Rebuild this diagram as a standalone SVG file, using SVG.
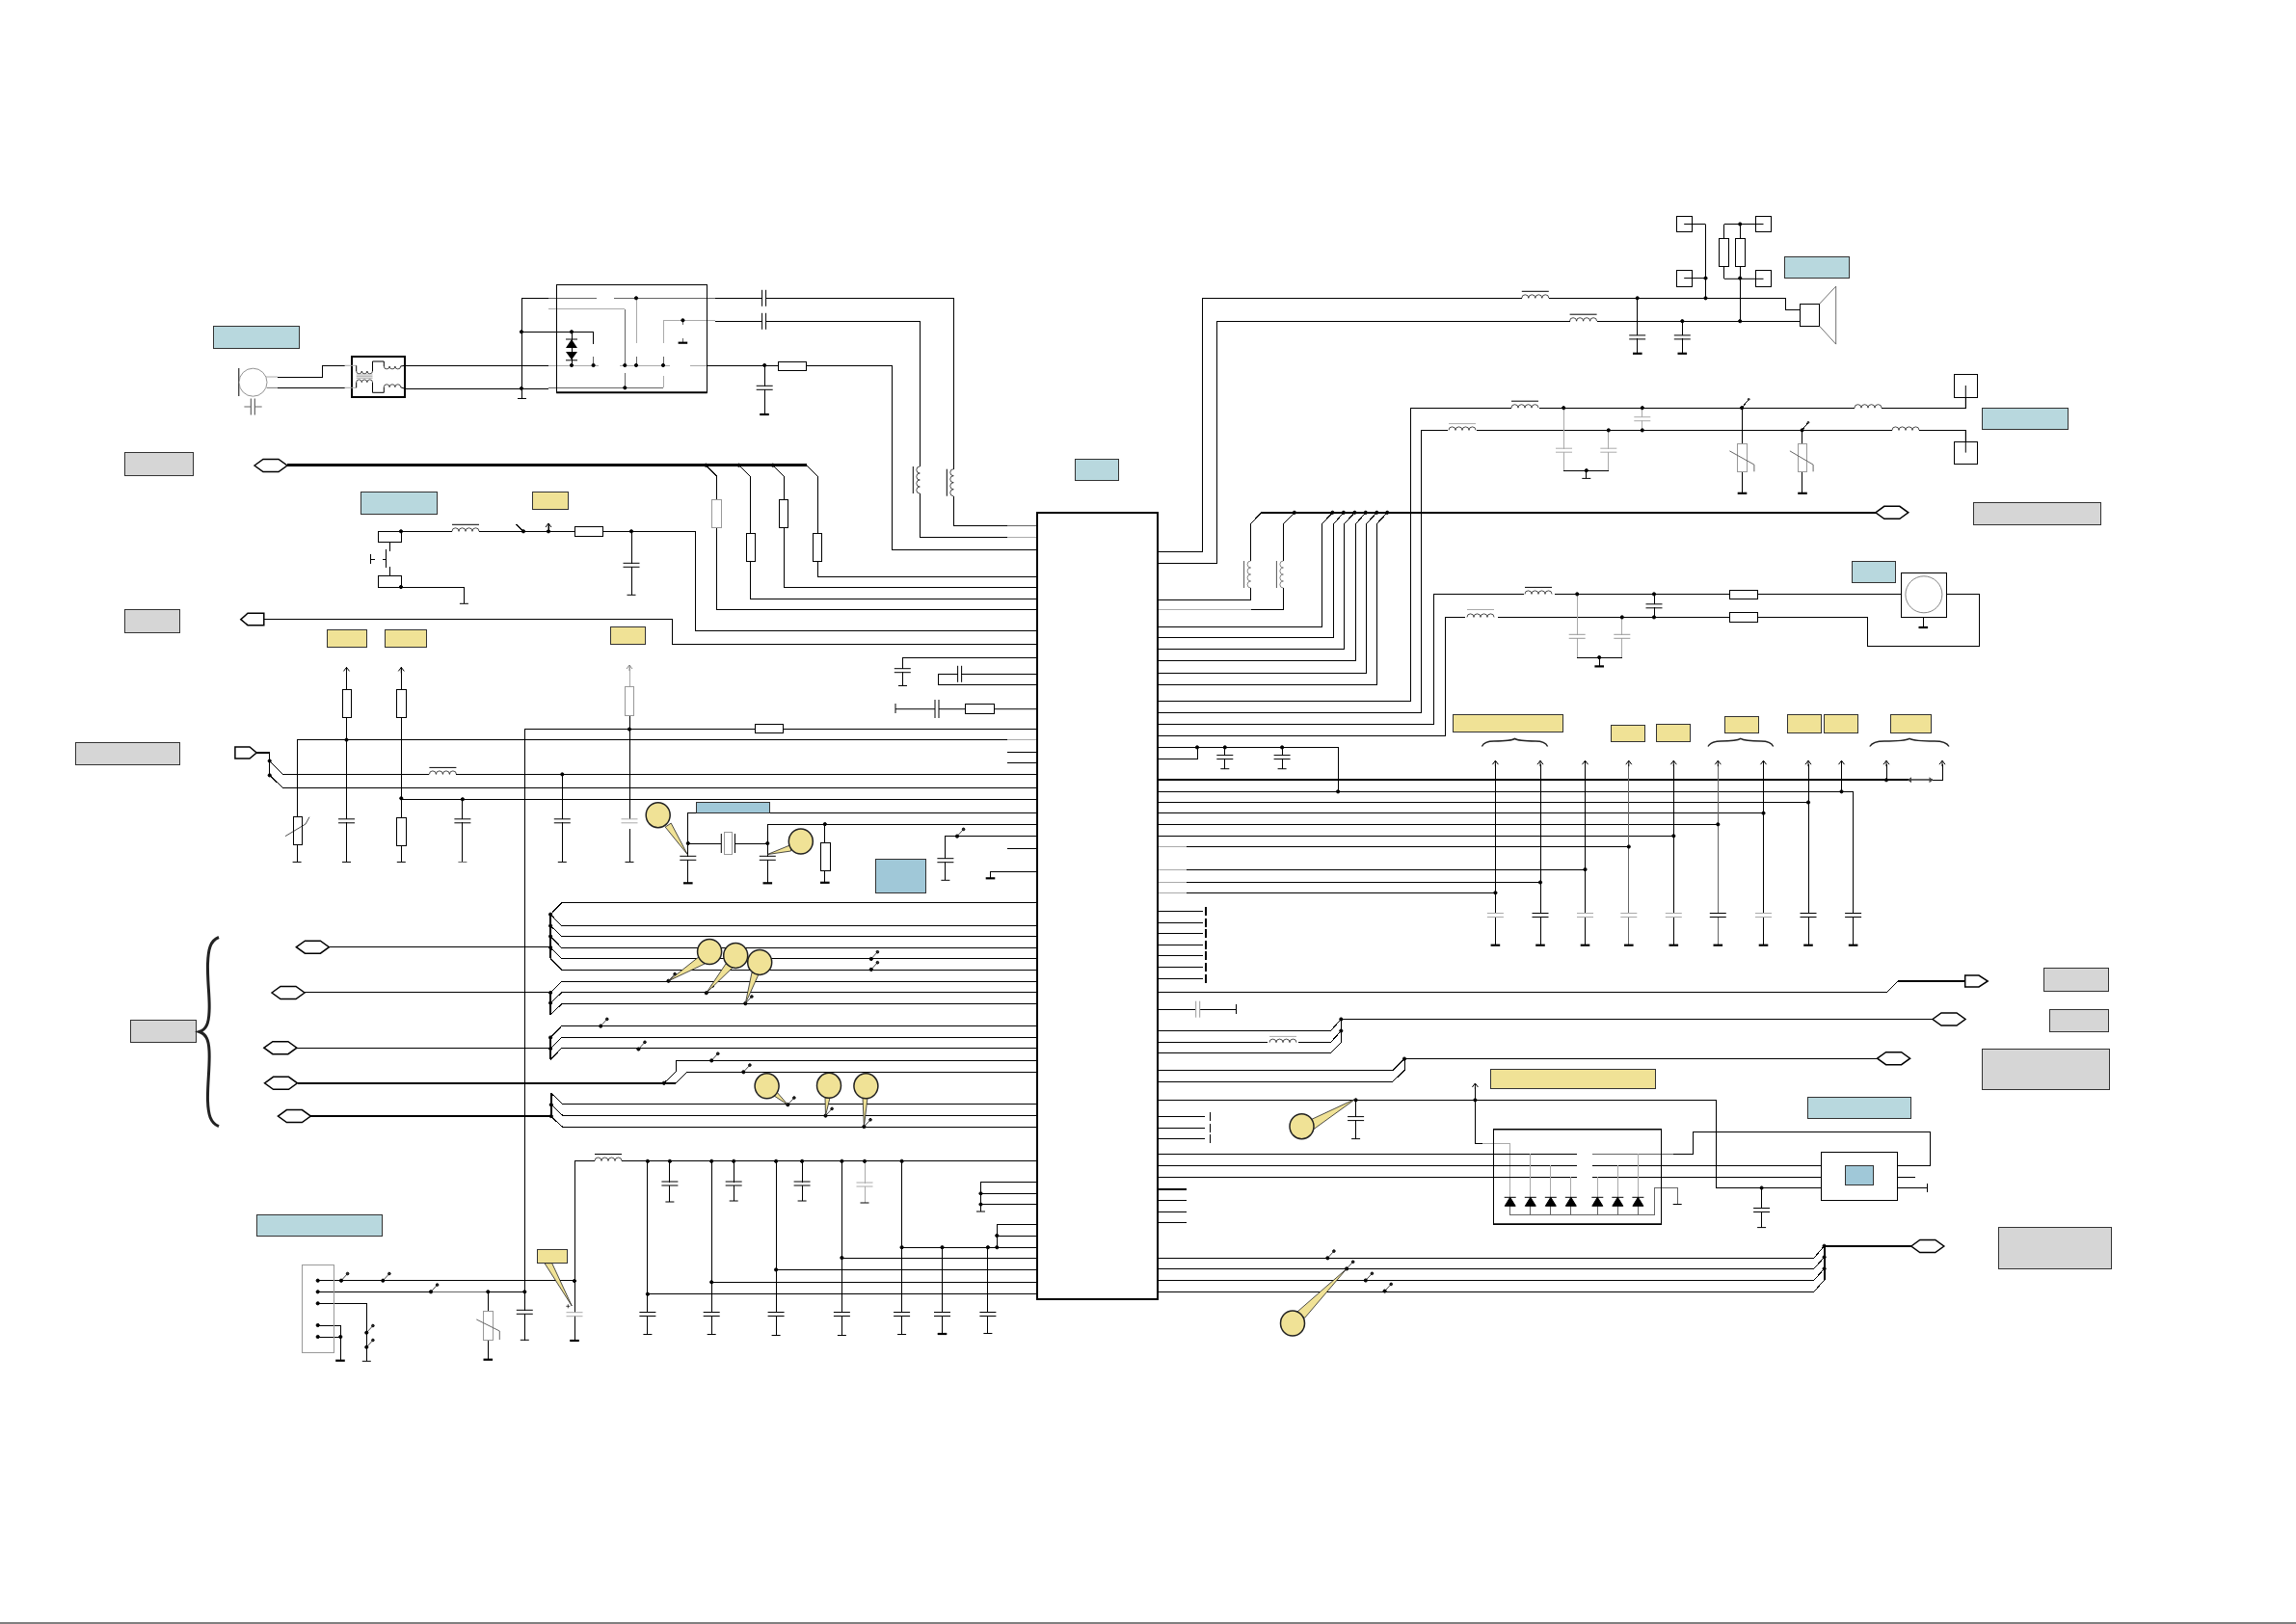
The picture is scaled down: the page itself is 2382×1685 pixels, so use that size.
<svg xmlns="http://www.w3.org/2000/svg" xmlns:xlink="http://www.w3.org/1999/xlink" width="2382" height="1685" viewBox="0 0 2382 1685">
<style>
path,line{fill:none;stroke:#000;stroke-width:1}
#connectors path,rect{shape-rendering:crispEdges}
.t{stroke-width:2.5}.m{stroke-width:2}
.g{stroke:#aaa}.dg{stroke:#666}
.n{stroke-width:.7}
.box{fill:#fff;stroke:#000;stroke-width:1}
.res{fill:#fff;stroke:#000;stroke-width:1}
.resg{fill:#fff;stroke:#999;stroke-width:1}
.lb{fill:#b8d8de;stroke:#333;stroke-width:1}
.ly{fill:#f0e296;stroke:#333;stroke-width:1}
.lg{fill:#d6d6d6;stroke:#333;stroke-width:1}
.lk{fill:#a0c8d8;stroke:#333;stroke-width:1}
.bal{fill:#f0e296;stroke:#222;stroke-width:1.5}
.tail{fill:#f0e296;stroke:#222;stroke-width:.8}
.tag{fill:#fff;stroke:#000;stroke-width:1.5}
use{stroke:#000}
</style>
<defs>
<circle id="d" r="1.6" fill="#000"/>
<g id="cv"><rect x="-8.5" y="-1.5" width="17" height="3" fill="#fff" stroke="none"/><path d="M-8.5,-2H8.5M-8.5,2H8.5" style="stroke:inherit"/></g>
<g id="ch"><rect x="-1.5" y="-8.5" width="3" height="17" fill="#fff" stroke="none"/><path d="M-2,-8.5V8.5M2,-8.5V8.5" style="stroke:inherit"/></g>
<path id="gn" d="M-4.5,0H4.5" style="stroke:inherit"/>
<path id="gk" d="M-4.8,0H4.8" style="stroke:inherit;stroke-width:2.2"/>
<g id="lh"><rect x="0" y="-2" width="28" height="4" fill="#fff" stroke="none"/><path class="n" d="M0,0a3.5,3.5 0 0 1 7,0a3.5,3.5 0 0 1 7,0a3.5,3.5 0 0 1 7,0a3.5,3.5 0 0 1 7,0" style="stroke:inherit"/></g>
<g id="lb"><use xlink:href="#lh"/><path d="M0,-7H28" style="stroke:inherit"/></g>
<g id="lv"><rect x="-2" y="0" width="4" height="28" fill="#fff" stroke="none"/><path class="n" d="M0,0a3.5,3.5 0 0 0 0,7a3.5,3.5 0 0 0 0,7a3.5,3.5 0 0 0 0,7a3.5,3.5 0 0 0 0,7" style="stroke:inherit"/><path d="M-7,0V28" style="stroke:inherit"/></g>
<path id="au" d="M-3,4L0,0L3,4M0,0V6" style="stroke:inherit"/>
<g id="st"><path d="M0,0L6.6,-7.2" style="stroke:#444"/><circle cx="6.6" cy="-7.2" r="1.3" fill="#333"/><circle r="1.6" fill="#000"/></g>
<polygon id="hex" class="tag" points="-17,0 -8,-6.5 8,-6.5 17,0 8,6.500 -8,6.500"/>
<g id="dz"><polygon points="-5.5,9 5.5,9 0,0" fill="#000"/><path d="M-6,0H6" style="stroke:#000"/></g>
</defs>
<rect width="2382" height="1685" fill="#fff" stroke="none"/>
<line x1="0" y1="1684" x2="2382" y2="1684" style="stroke-width:1.2"/>

<g id="connectors">
<path d="M288,391H334.500V379.300H357.500"/>
<path d="M276.500,402.300H357.500"/>
<path d="M420,379.300H568.700M420,403.300H568.700"/>
<path d="M545.700,413.300H537M541,413.300V309.300H568.700M541,344.300H615.600V356.700"/>
<path class="dg" d="M568.700,309.300H618.700M636.500,309.300H742"/>
<path d="M742,309.300H790.600M794.700,309.300H989.300V486.700M989.300,515V545.300H1045"/>
<path class="dg" d="M1045,545.300H1076"/>
<path class="g" d="M568.700,320.700H648.300"/>
<path class="dg" d="M648.300,320.700V379.300M648.300,386.700V402.300M568.700,402.300H687.600"/>
<path class="g" d="M660,309.300V355.700M688,355.700V332.300H742M688,402.300V390M568.700,379H621M642.600,379H695M715.600,379H733.500"/>
<path class="dg" d="M660,370V379M688,370V379M708.400,332.300V337.300M708.400,350.700V355.700M615.600,370V379"/>
<path d="M593,344.300V379"/>
<path d="M742,333.300H790.600M794.700,333.300H954.300V484M954.300,511.700V557.300H1045"/>
<path class="g" d="M1045,557.300H1076"/>
<path d="M733.500,379.300H807.400M836.500,379.300H925.300V570.300H1076M793.200,379.300V430"/>
<path class="t" d="M298,482.700H836.500"/>
<path d="M732.400,482.700L743.700,494.300V632.300H1076"/>
<path d="M766.600,482.700L778.400,494.300V621.300H1076"/>
<path d="M801.800,482.700L813.300,494.300V609.300H1076"/>
<path d="M836.500,482.700L848.300,494.300V598.300H1076"/>
<path d="M416,551.300H469M497,551.300H721.700V654.300H1076M655,551.300V617.300M569,551.300V544"/>
<path d="M543,551.300L535.500,544"/>
<path d="M404.400,562.300V571.700M404.400,588.300V597.300M400.300,570V589.300M384.500,575V585M384.500,580H389M396.700,580H400.300M416,609.300H481.400V626.300"/>
<path d="M273.800,642.700H697.800V668.300H1076"/>
<path d="M936.300,711.700V682.300H1076M973.300,699.300V710.300H1076M973.300,699.300H1076M1045,780H1076M1045,791.900H1076M1045,880.500H1076"/>
<path d="M932,711.700H941"/>
<path d="M544.100,1390.500V756.600H1076"/>
<path d="M308.100,894.400V767.600H1045"/>
<path class="g" d="M1045,767.600H1076"/>
<path d="M266,781H279.700" class="m"/>
<path d="M279.700,781V804.400M279.700,789.500L293.300,803.400H1076M279.700,804.400L293.300,817.300H1076"/>
<path d="M359.500,692.400V894.400M416.300,692.400V894.400M416.300,829.300H1076M479.900,829.300V894.400"/>
<path d="M583.300,803.400V894.400"/>
<path class="g" d="M653,690V712.300"/>
<path d="M653,742V850M653,860V894.400"/>
<path d="M713.800,916.300V843.700H1076M713.800,875H748.300M762.500,875H796.300M796.300,916.300V855.100H1076M855.800,855.100V915.800"/>
<path d="M980.900,913.300V867.600H1076M1027.500,911.300V904.400H1076"/>
<path d="M342,982.500H570.500"/>
<path class="m" d="M571.100,948.700V994.400"/>
<path d="M571.100,948.700L582.700,936.700H1076M571.100,948.700L582.700,960.600H1076M571.100,960.600L582.700,971.500H1076M571.100,971.500L582.700,983.500H1076M571.100,983.500L582.700,994.400H1076M571.100,994.400L582.700,1006.400H1076"/>
<path d="M316.300,1029.800H570.500"/>
<path class="m" d="M571.100,1029.800V1053"/>
<path d="M571.100,1029.800L582.700,1018.300H1076M571.100,1040.600L582.700,1029.800H1076M571.100,1053L582.700,1041.700H1076"/>
<path d="M308.100,1087.500H570.500"/>
<path class="m" d="M571.100,1076.500V1099.400"/>
<path d="M571.100,1076.500L582.700,1064.600H1076M571.100,1088L582.700,1076.500H1076M571.100,1099.400L582.700,1087.500H1076"/>
<path class="m" d="M308.800,1123.800H701"/>
<path d="M688.800,1123.800L701.300,1112V1100.400H1076M701,1123.800L712.500,1112.300H1076"/>
<path class="m" d="M322.300,1158.100H571.800"/>
<path class="m" d="M571.800,1134.200V1158.600"/>
<path d="M571.800,1134.200L584,1145.700H1076M571.800,1146.200L584,1157.600H1076M571.800,1158.600L584,1169.600H1076"/>
<path d="M596,1390.500V1204.300H617M645,1204.800H1076"/>
<path d="M671.900,1204.800V1384.500M738.200,1204.800V1384.500M805.100,1204.800V1385.500M873.400,1204.800V1385.500M935.600,1204.800V1384.500"/>
<path d="M694.900,1204.800V1247M761.200,1204.800V1246M832.100,1204.800V1246"/>
<path class="g" d="M897,1204.800V1248"/>
<path d="M671.900,1342.700H1076M738.200,1330.300H1076M805.100,1317.400H1076M873.400,1305H1076M935.600,1294.200H1076M977.500,1294.200V1384M1024.900,1294.200V1383.500"/>
<path d="M1034.300,1270.400V1294.200M1034.300,1270.400H1076M1034.300,1282H1076M1017.500,1226.300H1076M1017.500,1226.300V1257M1017.500,1238.300H1076M1017.500,1249.600H1076"/>
<path d="M329.700,1328.700H596"/>
<path d="M329.700,1340.300H447M506.300,1340.300H544.300"/>
<path class="dg" d="M447,1340.300H506.300"/>
<path d="M329.700,1352.300H380.300V1412.300M329.700,1375H353.300V1411.700M329.700,1387H353.300M506.300,1340.300V1410.700"/>
<path d="M1201,572.200H1247.200V309.300H1578.800M1606.900,309.300H1852.400V321.400H1867.700M1698.700,309.300V366.800"/>
<path d="M1201,584.300H1262.500V333.200H1628.600M1656.600,333.200H1867.700M1745.300,333.200V366.800"/>
<path d="M1769.500,232.500V309.300M1788.700,232.500V289.300M1805.200,232.500V333.200"/>
<path d="M1201,727.100H1463.400V423.200H1568M1596.700,423.200H1923.900M1951.300,423.200H2039.300V400"/>
<path d="M1201,739.300H1474.200V446.400H1501.700M1531.600,446.400H1962.800M1990.800,446.400H2039.300V469.600"/>
<path class="g" d="M1622.200,423.200V488.200M1668.800,446.400V488.200M1703.800,423.200V446.400"/>
<path d="M1622.200,488.200H1668.800M1645.800,488.200V496.400"/>
<path d="M1807.100,423.200V460M1807.100,490V511.800M1869.600,446.400V460M1869.600,490V511.800"/>
<path d="M1807.100,423.200L1814.200,414.300M1869.600,446.400L1876,438.200"/>
<path class="t" d="M1308.400,531.800H1946.200"/>
<path d="M1308.400,531.800L1297.600,543.600V622.500H1201"/>
<path d="M1342.900,531.800L1331.400,543.600V632.100H1297.600"/>
<path class="g" d="M1297.600,632.100H1201"/>
<path d="M1382.400,531.800L1371.600,543.600V650.400H1201M1393.900,531.800L1383.700,543.600V661.400H1201M1405.400,531.800L1394.500,543.600V673.200H1201M1416.800,531.800L1406.600,543.600V685.400H1201M1428.300,531.800L1417.500,543.600V698.200H1201M1439.200,531.800L1428.300,543.600V710.400H1201"/>
<path d="M1201,751.300H1487.600V616.400H1580.700M1612.600,616.400H1972.300M2019.500,616.400H2053.300V670.400H1937.900V640.400H1823.100M1794.400,640.400H1553.900M1520.200,640.400H1499.700V763.300H1201"/>
<path class="g" d="M1636.200,616.400V682.100M1682.800,640.400V682.100"/>
<path d="M1636.200,682.100H1682.800M1659.200,682.100V691.400M1716,616.400V640.400"/>
<path d="M1995.300,640.700V651"/>
<path d="M1201,775.400H1388.100V821.300M1201,787.400H1242V775.400M1270.800,775.400V797.700M1330.100,775.400V797.700"/>
<path class="m" d="M1201,809.300H1979.600"/>
<path d="M2005,809.300H2015.300V793M1957,793V809.300"/>
<path class="m dg" d="M1979.600,809.300H2005"/>
<path d="M1201,821.300H1922.700V981M1910.500,793V821.300"/>
<path d="M1201,832.500H1876V793M1876,832.500V981M1201,843.700H1829.500M1201,855.300H1782.300M1201,867.300H1736.300"/>
<path d="M1230.600,878.500H1689.800M1230.600,902.100H1644.500M1230.600,915.500H1598M1230.600,926.300H1551.400"/>
<path class="g" d="M1201,878.500H1230.600M1201,902.100H1230.600M1201,915.500H1230.600M1201,926.300H1230.600"/>
<path d="M1551.400,793V981M1598,793V981M1644.500,793V981M1736.300,793V981M1829.500,793V981"/>
<path class="dg" d="M1689.800,793V981M1782.300,793V981"/>
<path d="M1201,945.400H1247.800M1201,957H1247.800M1201,968.700H1247.800M1201,980.300H1247.800M1201,991.400H1247.800M1201,1003.500H1247.800M1201,1015.100H1247.800"/>
<path class="m" d="M1251,941V950M1251,952.500V961.500M1251,964.200V973.200M1251,975.800V984.800M1251,987V996M1251,999V1008M1251,1010.600V1019.600"/>
<path d="M1201,1029.400H1957.600L1969.100,1017.800"/>
<path class="t" d="M1969.100,1017.800H2038.700"/>
<path d="M1201,1047.200H1240.200M1245.300,1047.200H1282.900M1282.900,1042.300V1052.100"/>
<path d="M1391.300,1057.500H2004.800"/>
<path d="M1391.300,1057.500V1081.600M1201,1069.600H1380.500L1391.300,1057.500M1201,1081.600H1314.800M1346.700,1081.600H1380.500L1391.300,1069.600M1201,1092.300H1380.500L1391.300,1081.600"/>
<path d="M1457,1098.600H1947.400M1457,1098.600V1110.600M1201,1110.600H1444.900L1457,1098.600M1201,1122.200H1444.900L1457,1110.600"/>
<path d="M1201,1141.400H1780.400V1232.500H1889.400M1406.600,1141.400V1181.600M1530.400,1128V1186.500H1538"/>
<path class="g" d="M1538,1186.500H1566.700V1242"/>
<path d="M1201,1158.400H1250M1201,1170H1250M1201,1181.600H1250"/>
<path d="M1255.500,1154V1163M1255.500,1165.500V1174.500M1255.500,1177V1186" style="stroke-width:1.6"/>
<path d="M1201,1197.200H1635.600M1201,1209.300H1635.600M1889.400,1209.300H1651.500"/>
<path d="M1201,1221H1635.600M1651.500,1221H1889.400"/>
<path class="dg" d="M1651.500,1197.200H1735.700"/>
<path d="M1735.700,1197.200H1756.100V1174.500H2002.300V1209.300H1968.500M1968.500,1221.400H1987M1968.500,1232.500H1999.100M1999.100,1227.600V1237"/>
<path class="g" d="M1587.800,1197.200V1242M1608.800,1209.300V1242M1629.800,1221V1242M1657.300,1221V1242M1678.300,1209.300V1242M1699.400,1197.200V1242"/>
<path class="dg" d="M1566.700,1251V1260.700H1716.600V1232.500H1740.200V1249.500M1587.800,1251V1260.700M1608.800,1251V1260.700M1629.800,1251V1260.700M1657.300,1251V1260.700M1678.300,1251V1260.700M1699.400,1251V1260.700"/>
<path d="M1827.600,1232.500V1273.600"/>
<path class="m" d="M1201,1234.300H1230.600"/>
<path d="M1201,1245.900H1230.600M1201,1257.500H1230.600M1201,1268.200H1230.600"/>
<path d="M1201,1305.300H1881.800M1201,1316.400H1881.800M1201,1328.500H1881.800M1201,1340.500H1881.800M1881.800,1305.300L1892.600,1292.800M1881.800,1316.400L1892.600,1304.400M1881.800,1328.500L1892.600,1316.400M1881.800,1340.500L1892.600,1328"/>
<path class="m" d="M1892.600,1292.800V1328"/>
<path class="t" d="M1892.600,1292.800H1982.500"/>
</g>

<g id="chip"><rect class="box" x="1076" y="532" width="125" height="816" style="stroke-width:1.5"/></g>

<g id="labels">
<rect id="lbl-mic" class="lb" x="221" y="338" width="89" height="23"/>
<rect id="lbl-g1" class="lg" x="129" y="469" width="71" height="24"/>
<rect id="lbl-key" class="lb" x="374" y="510" width="79" height="23"/>
<rect id="lbl-y1" class="ly" x="552" y="510" width="37" height="18"/>
<rect id="lbl-g2" class="lg" x="129" y="632" width="57.500" height="24"/>
<rect id="lbl-y2" class="ly" x="339" y="653" width="41" height="18"/>
<rect id="lbl-y3" class="ly" x="399" y="653" width="43" height="18"/>
<rect id="lbl-y4" class="ly" x="633.500" y="650" width="35.500" height="18"/>
<rect id="lbl-g3" class="lg" x="78.300" y="770.500" width="108" height="23"/>
<rect id="lbl-b1" class="lk" x="722.600" y="832.700" width="75.700" height="10.500"/>
<rect id="lbl-b2" class="lk" x="908.800" y="891.400" width="51.800" height="35.400"/>
<rect id="lbl-g4" class="lg" x="135.700" y="1058.600" width="67.600" height="23"/>
<rect id="lbl-b3" class="lb" x="266.300" y="1260.300" width="130.400" height="22"/>
<rect id="lbl-chip" class="lb" x="1115.300" y="476.300" width="45.400" height="22.400"/>
<rect id="lbl-spk" class="lb" x="1851" y="266.400" width="67.700" height="22.200"/>
<rect id="lbl-ear" class="lb" x="2056.500" y="423.200" width="88.500" height="22.500"/>
<rect id="lbl-g5" class="lg" x="2047" y="521.400" width="132" height="23.200"/>
<rect id="lbl-vib" class="lb" x="1921.900" y="582.500" width="44.700" height="22.100"/>
<rect class="ly" x="1507.400" y="741.400" width="114.200" height="18.300"/>
<rect class="ly" x="1671.300" y="752.600" width="35.100" height="17"/>
<rect class="ly" x="1718.500" y="751.300" width="35.100" height="18.300"/>
<rect class="ly" x="1789.900" y="743.700" width="34.500" height="16.900"/>
<rect class="ly" x="1854.300" y="741.900" width="35.100" height="18.700"/>
<rect class="ly" x="1892.600" y="741.900" width="35.100" height="18.700"/>
<rect class="ly" x="1961.500" y="741.900" width="42.100" height="18.700"/>
<rect class="lg" x="2120.300" y="1004.800" width="67.600" height="23.700"/>
<rect class="lg" x="2126.700" y="1047.200" width="61.200" height="23.200"/>
<rect class="lg" x="2056.500" y="1088.300" width="132" height="42.400"/>
<rect class="ly" x="1546.300" y="1109.300" width="170.900" height="20.100"/>
<rect class="lb" x="1875.400" y="1138.300" width="107.100" height="22.300"/>
<rect class="lg" x="2073.700" y="1273.600" width="116.700" height="42.800"/>
</g>

<g id="braces">
<path d="M227,972.500C218,976 216,985 215.500,1000C215,1020 218,1035 217,1050C216.500,1062 214,1068 206.700,1070.500C214,1073 216.500,1079 217,1090C218,1105 215,1125 215.500,1142C216,1156 218,1165 227,1168.600" style="stroke:#222;stroke-width:3"/>
<path d="M1537.400,774.500Q1540,769 1550,769Q1568,769 1571.500,766.400Q1575,769 1593,769Q1603,769 1605.600,774.500" style="stroke:#222;stroke-width:1.4"/>
<path d="M1772,774.500Q1775,769 1785,769Q1802,769 1805.800,766.400Q1810,769 1827,769Q1837,769 1839.700,774.500" style="stroke:#222;stroke-width:1.4"/>
<path d="M1939.800,774.500Q1943,769 1955,769Q1976,769 1981,766.400Q1986,769 2007,769Q2019,769 2022,774.500" style="stroke:#222;stroke-width:1.4"/>
</g>

<g id="mic">
<path d="M247.800,382V411"/><circle cx="262.500" cy="396.700" r="14.500" fill="#fff" stroke="#777" stroke-width=".8"/>
<path class="g" d="M276,391H288M276.500,402.300H288"/>
<use xlink:href="#ch" x="262.300" y="422" style="stroke:#444"/><path class="dg" d="M253.400,422H260M264.600,422H271.700"/>
</g>
<g id="transformer">
<rect x="364.600" y="369.700" width="55.600" height="42.600" fill="#fff" stroke="#000" stroke-width="2"/>
<path class="g" d="M357.500,379.300H369.700M357.500,402.300H369.700"/>
<path d="M369.700,379.300V385M369.700,402.300V396.700M386.500,385V375H398.300V380M386.500,396.700V407.300H398.300V401.700M415.600,380L420,379.300M415.600,401.700L420,403.300"/>
<path class="n" d="M369.700,385a2.800,2.800 0 0 0 5.600,0a2.800,2.800 0 0 0 5.600,0a2.800,2.800 0 0 0 5.600,0M369.700,396.700a2.800,2.800 0 0 1 5.600,0a2.800,2.800 0 0 1 5.600,0a2.800,2.800 0 0 1 5.600,0M398.300,380a2.900,2.900 0 0 0 5.800,0a2.900,2.900 0 0 0 5.800,0a2.900,2.900 0 0 0 5.800,0M398.300,401.700a2.900,2.900 0 0 1 5.800,0a2.900,2.900 0 0 1 5.800,0a2.900,2.900 0 0 1 5.800,0"/>
<path class="g" d="M369.700,389H386.500M369.700,390.700H386.500M369.700,392.300H386.500"/>
</g>
<g id="audio-block">
<rect x="577.300" y="295.300" width="156.200" height="112" fill="none" stroke="#000"/>
<path d="M577.300,407.300H733.500" style="stroke-width:2"/>
<polygon points="587,361 599,361 593,352" fill="#000"/><path d="M587,352H599"/>
<polygon points="587,365 599,365 593,373.300" fill="#000"/><path d="M587,373.800H599"/>
<use xlink:href="#gk" x="708.400" y="355.700"/>
<use xlink:href="#d" x="593" y="344.300"/><use xlink:href="#d" x="541" y="344.300"/><use xlink:href="#d" x="541" y="403"/>
<use xlink:href="#d" x="660" y="309.300"/><use xlink:href="#d" x="708.400" y="332.300"/><use xlink:href="#d" x="593" y="379"/><use xlink:href="#d" x="615.600" y="379"/><use xlink:href="#d" x="648.300" y="379"/><use xlink:href="#d" x="660" y="379"/><use xlink:href="#d" x="688" y="379"/><use xlink:href="#d" x="648.300" y="402.300"/>
<use xlink:href="#d" x="793.200" y="379"/>
</g>
<g id="caps-top">
<use xlink:href="#ch" x="792.600" y="309.300"/><use xlink:href="#ch" x="792.600" y="333.300"/>
<use xlink:href="#cv" x="793.200" y="402.300"/><use xlink:href="#gk" x="793" y="430"/>
<rect class="res" x="807.400" y="375.300" width="29.300" height="9.200"/>
<use xlink:href="#lv" x="954.300" y="484"/><use xlink:href="#lv" x="989.300" y="486.700"/>
</g>
<g id="bus-top">
<use xlink:href="#hex" x="281" y="483"/>
<use xlink:href="#d" x="732.400" y="482.700"/><use xlink:href="#d" x="766.600" y="482.700"/><use xlink:href="#d" x="801.800" y="482.700"/>
<rect class="resg" x="738.600" y="518.300" width="9.700" height="29"/>
<rect class="res" x="774.300" y="553.300" width="9.200" height="29"/>
<rect class="res" x="808.500" y="518.300" width="9.200" height="29"/>
<rect class="res" x="843.700" y="553.300" width="9" height="29"/>
</g>
<g id="keypad">
<rect class="box" x="392.700" y="551.300" width="23.900" height="11"/><rect class="box" x="392.700" y="597.300" width="23.900" height="12"/>
<use xlink:href="#d" x="416" y="551.300"/><use xlink:href="#d" x="416" y="609"/>
<use xlink:href="#lb" x="469" y="551.300"/>
<use xlink:href="#d" x="543" y="551.300"/><use xlink:href="#d" x="569" y="551.300"/>
<use xlink:href="#au" x="569" y="543"/>
<rect class="res" x="596.700" y="546.300" width="28.600" height="10"/>
<use xlink:href="#d" x="655" y="551.300"/><use xlink:href="#cv" x="655" y="586.300"/><use xlink:href="#gn" x="655" y="617.300"/>
<use xlink:href="#gn" x="481.400" y="626.300"/>
<polygon class="tag" points="273.800,636.300 257,636.300 249.800,642.700 257,648.700 273.800,648.700"/>
</g>
<g id="chip-left-caps">
<use xlink:href="#cv" x="936.300" y="695.700"/><use xlink:href="#ch" x="995.600" y="699.300"/>
<path d="M929,735.700H970M974,735.700H1001M1031,735.700H1076M970,726V745M974,726V745M929,730V740"/>
<rect class="res" x="1001" y="730.700" width="30" height="10"/>
<rect class="res" x="783.500" y="751.600" width="29" height="9"/>
</g>
<g id="chip-left-mid">
<use xlink:href="#d" x="653" y="756.600"/>
<rect class="resg" x="648.900" y="712.300" width="8.800" height="29.900"/>
<use xlink:href="#au" x="653" y="690" style="stroke:#888"/>
<use xlink:href="#d" x="359.500" y="767.600"/>
<use xlink:href="#au" x="359.500" y="692.400"/><use xlink:href="#au" x="416.300" y="692.400"/>
<rect class="res" x="355.500" y="715.300" width="8.800" height="29.400"/>
<rect class="res" x="411.600" y="715.300" width="10.100" height="29.400"/>
<polygon class="tag" points="243.900,775 259,775 266.200,781 259,787 243.900,787"/>
<use xlink:href="#d" x="279.700" y="789.500"/><use xlink:href="#d" x="279.700" y="804.400"/>
<use xlink:href="#lb" x="445.400" y="803.400"/><use xlink:href="#d" x="583.300" y="803.400"/><use xlink:href="#d" x="416.300" y="828.300"/><use xlink:href="#d" x="479.900" y="829.300"/>
<rect class="res" x="304" y="847" width="9.500" height="29.500"/>
<path class="n" d="M296,867.600L317,855L321,847.700"/>
<use xlink:href="#gn" x="308.100" y="894.400"/>
<use xlink:href="#cv" x="359.500" y="851.800"/><use xlink:href="#gn" x="359.500" y="894.400"/>
<rect class="res" x="411.600" y="848.700" width="10.100" height="28.800"/><use xlink:href="#gn" x="416.300" y="894.400"/>
<use xlink:href="#cv" x="479.900" y="851.800"/><use xlink:href="#gn" x="479.900" y="894.400" style="stroke:#666"/>
<use xlink:href="#cv" x="583.300" y="851.800"/><use xlink:href="#gn" x="583.300" y="894.400"/>
<use xlink:href="#cv" x="653" y="851.800" style="stroke:#aaa"/><use xlink:href="#gn" x="653" y="894.400"/>
</g>
<g id="crystal">
<use xlink:href="#d" x="713.800" y="875"/><use xlink:href="#cv" x="713.800" y="890.300"/><use xlink:href="#gk" x="713.800" y="916.300"/>
<path d="M748.300,865V885M762.500,865V885"/><rect class="resg" x="751.700" y="863.600" width="7.300" height="22.900"/>
<use xlink:href="#d" x="796.300" y="875"/><use xlink:href="#cv" x="796.300" y="890.300"/><use xlink:href="#gk" x="796.300" y="916.300"/>
<use xlink:href="#d" x="855.800" y="855.100"/><rect class="res" x="851" y="874.500" width="10.200" height="28.900"/><use xlink:href="#gk" x="855.800" y="915.800"/>
<use xlink:href="#st" x="993" y="867.600"/><use xlink:href="#cv" x="980.900" y="892.700"/><use xlink:href="#gn" x="980.900" y="913.300"/>
<use xlink:href="#gk" x="1027.500" y="911.300"/>
</g>
<g id="bus-hexes">
<use xlink:href="#hex" x="324.400" y="982.700"/><use xlink:href="#hex" x="299" y="1030"/><use xlink:href="#hex" x="290.900" y="1087.200"/><use xlink:href="#hex" x="291.500" y="1123.800"/><use xlink:href="#hex" x="305.400" y="1158.100"/>
<use xlink:href="#d" x="571.100" y="948.700"/><use xlink:href="#d" x="571.100" y="960.600"/><use xlink:href="#d" x="571.100" y="971.500"/><use xlink:href="#d" x="571.100" y="983"/>
<use xlink:href="#d" x="571.100" y="1030"/><use xlink:href="#d" x="571.100" y="1040.600"/>
<use xlink:href="#d" x="571.100" y="1076.500"/><use xlink:href="#d" x="571.100" y="1088"/>
<use xlink:href="#d" x="688.800" y="1123.800"/>
<use xlink:href="#d" x="571.800" y="1146.200"/><use xlink:href="#d" x="571.800" y="1158.100"/>
<use xlink:href="#st" x="903.800" y="994.900"/><use xlink:href="#st" x="903.800" y="1005.900"/>
<use xlink:href="#st" x="693.500" y="1017.800"/><use xlink:href="#st" x="732.800" y="1030.200"/><use xlink:href="#st" x="773.300" y="1041.200"/>
<use xlink:href="#st" x="623.200" y="1064.600"/><use xlink:href="#st" x="662.400" y="1088.500"/>
<use xlink:href="#st" x="738.200" y="1100.400"/><use xlink:href="#st" x="771.300" y="1112.300"/>
<use xlink:href="#st" x="817.300" y="1146.200"/><use xlink:href="#st" x="856.500" y="1157.600"/><use xlink:href="#st" x="896.400" y="1169"/>
</g>
<g id="rail">
<use xlink:href="#lb" x="617" y="1204.500"/>
<use xlink:href="#d" x="671.900" y="1204.800"/><use xlink:href="#d" x="694.900" y="1204.800"/><use xlink:href="#d" x="738.200" y="1204.800"/><use xlink:href="#d" x="761.200" y="1204.800"/><use xlink:href="#d" x="805.100" y="1204.800"/><use xlink:href="#d" x="832.100" y="1204.800"/><use xlink:href="#d" x="873.400" y="1204.800"/><use xlink:href="#d" x="897" y="1204.800"/><use xlink:href="#d" x="935.600" y="1204.800"/>
<use xlink:href="#cv" x="694.900" y="1228"/><use xlink:href="#gn" x="694.900" y="1247"/>
<use xlink:href="#cv" x="761.200" y="1228"/><use xlink:href="#gn" x="761.200" y="1246"/>
<use xlink:href="#cv" x="832.100" y="1228"/><use xlink:href="#gn" x="832.100" y="1246"/>
<use xlink:href="#cv" x="897" y="1229" style="stroke:#aaa"/><use xlink:href="#gn" x="897" y="1248"/>
<use xlink:href="#d" x="671.900" y="1342.700"/><use xlink:href="#d" x="738.200" y="1330.300"/><use xlink:href="#d" x="805.100" y="1317.400"/><use xlink:href="#d" x="873.400" y="1305"/><use xlink:href="#d" x="935.600" y="1294.200"/><use xlink:href="#d" x="977.500" y="1294.200"/><use xlink:href="#d" x="1024.900" y="1294.200"/><use xlink:href="#d" x="1034.300" y="1294.200"/><use xlink:href="#d" x="1034.300" y="1282"/><use xlink:href="#d" x="1017.500" y="1238.300"/><use xlink:href="#d" x="1017.500" y="1249.600"/>
<use xlink:href="#gn" x="1017.500" y="1257"/>
<use xlink:href="#cv" x="671.900" y="1363.500"/><use xlink:href="#gn" x="671.900" y="1384.500"/>
<use xlink:href="#cv" x="738.200" y="1363.500"/><use xlink:href="#gn" x="738.200" y="1384.500"/>
<use xlink:href="#cv" x="805.100" y="1363.500"/><use xlink:href="#gn" x="805.100" y="1385.500"/>
<use xlink:href="#cv" x="873.400" y="1363.500"/><use xlink:href="#gn" x="873.400" y="1385.500"/>
<use xlink:href="#cv" x="935.600" y="1363.500"/><use xlink:href="#gn" x="935.600" y="1384.500"/>
<use xlink:href="#cv" x="977.500" y="1363.500"/><use xlink:href="#gk" x="977.500" y="1384"/>
<use xlink:href="#cv" x="1024.900" y="1363.500"/><use xlink:href="#gn" x="1024.900" y="1383.500"/>
</g>
<g id="connector-sim">
<rect x="313.300" y="1312.700" width="33.400" height="90.600" rx="1" fill="none" stroke="#999" stroke-width="1"/>
<use xlink:href="#d" x="329.700" y="1328.700"/><use xlink:href="#d" x="329.700" y="1340.300"/><use xlink:href="#d" x="329.700" y="1352.300"/><use xlink:href="#d" x="329.700" y="1375"/><use xlink:href="#d" x="329.700" y="1387"/>
<use xlink:href="#st" x="354" y="1328.700"/><use xlink:href="#st" x="397.300" y="1328.700"/><use xlink:href="#st" x="447" y="1340.300"/>
<use xlink:href="#st" x="380.300" y="1382.700"/><use xlink:href="#st" x="380.300" y="1397.700"/>
<use xlink:href="#d" x="353.300" y="1387"/><use xlink:href="#gk" x="353" y="1411.700"/><use xlink:href="#gn" x="380.300" y="1412.300"/>
<use xlink:href="#d" x="506.300" y="1340.300"/><use xlink:href="#d" x="544.300" y="1340.300"/><use xlink:href="#d" x="596" y="1329"/>
<rect class="resg" x="501.700" y="1360" width="10" height="30"/>
<path class="dg" d="M494.300,1369L518.300,1381V1390"/>
<use xlink:href="#gk" x="506.300" y="1410.700"/>
<use xlink:href="#cv" x="544.300" y="1361.300"/><use xlink:href="#gn" x="544.300" y="1390.300"/>
<use xlink:href="#cv" x="596" y="1363.700" style="stroke:#aaa"/><use xlink:href="#gk" x="596" y="1391"/>
<path class="n" d="M587.300,1355.300H591.300M589.300,1353.300V1357.300"/>
</g>
<g id="speaker">
<rect class="box" x="1739.500" y="224.300" width="16" height="16.400"/><rect class="box" x="1821.200" y="224.300" width="15.900" height="16.400"/><rect class="box" x="1739.500" y="280.400" width="16" height="16.700"/><rect class="box" x="1821.200" y="280.400" width="15.900" height="16.700"/>
<path d="M1747.200,232.500H1769.500M1747.200,288.600H1769.500M1829.500,232.500H1788.700M1788.700,289.300H1829.500"/>
<rect class="res" x="1783.500" y="247.500" width="9.600" height="28.900"/><rect class="res" x="1800.800" y="247.500" width="9.500" height="28.900"/>
<use xlink:href="#d" x="1805.200" y="232.500"/><use xlink:href="#d" x="1805.200" y="288.600"/><use xlink:href="#d" x="1769.500" y="288.600"/>
<use xlink:href="#lb" x="1578.800" y="309.300"/><use xlink:href="#lb" x="1628.600" y="333.200"/>
<use xlink:href="#d" x="1698.700" y="309.300"/><use xlink:href="#d" x="1769.500" y="309.300"/><use xlink:href="#d" x="1745.300" y="333.200"/><use xlink:href="#d" x="1805.200" y="333.200"/>
<use xlink:href="#cv" x="1698.700" y="349.900"/><use xlink:href="#gk" x="1698.800" y="366.800"/>
<use xlink:href="#cv" x="1745.300" y="349.900"/><use xlink:href="#gk" x="1745.300" y="366.800"/>
<rect class="box" x="1867.700" y="315.400" width="19.800" height="22.800"/>
<path class="n" d="M1887.500,315.400L1904.700,297.100V357.100L1887.500,338.200" style="stroke:#333"/>
</g>
<g id="earpiece">
<rect class="box" x="2027.800" y="388.200" width="23.600" height="24.300"/><rect class="box" x="2027.800" y="458.200" width="23.600" height="23.200"/>
<path d="M2039.300,400V423.200M2039.300,446.400V469.600"/>
<use xlink:href="#lb" x="1568" y="423.200" style="stroke:#000"/><use xlink:href="#lh" x="1503" y="446.400"/><path class="g" d="M1503,439.600H1531"/>
<use xlink:href="#lh" x="1924" y="423.200"/><use xlink:href="#lh" x="1963" y="446.400"/>
<use xlink:href="#d" x="1622.200" y="423.200"/><use xlink:href="#d" x="1703.800" y="423.200"/><use xlink:href="#d" x="1807.100" y="423.200"/><use xlink:href="#d" x="1668.800" y="446.400"/><use xlink:href="#d" x="1703.800" y="446.400"/><use xlink:href="#d" x="1869.600" y="446.400"/><use xlink:href="#d" x="1645.800" y="488.200"/>
<use xlink:href="#cv" x="1622.500" y="467.200" style="stroke:#aaa"/><use xlink:href="#cv" x="1668.800" y="467.200" style="stroke:#aaa"/><use xlink:href="#cv" x="1703.800" y="434.700" style="stroke:#aaa"/>
<use xlink:href="#gn" x="1645.800" y="496.400"/>
<rect class="resg" x="1802.700" y="460.400" width="9.500" height="29.200"/><path class="dg" d="M1794.400,467.900L1819.900,482.100V489.300"/><use xlink:href="#gk" x="1807.500" y="511.800"/>
<rect class="resg" x="1865.200" y="460.400" width="9.500" height="29.200"/><path class="dg" d="M1856.900,467.900L1881.100,482.100V489.300"/><use xlink:href="#gk" x="1870" y="511.800"/>
<circle cx="1814.200" cy="414.300" r="1.300" fill="#333"/><circle cx="1876" cy="438.200" r="1.300" fill="#333"/>
</g>
<g id="bus-right">
<use xlink:href="#hex" x="1962.800" y="531.800"/>
<use xlink:href="#d" x="1342.900" y="531.800"/><use xlink:href="#d" x="1382.400" y="531.800"/><use xlink:href="#d" x="1393.900" y="531.800"/><use xlink:href="#d" x="1405.400" y="531.800"/><use xlink:href="#d" x="1416.800" y="531.800"/><use xlink:href="#d" x="1428.300" y="531.800"/><use xlink:href="#d" x="1439.200" y="531.800"/>
<use xlink:href="#lv" x="1297.600" y="582" style="stroke:#555"/><use xlink:href="#lv" x="1331.400" y="582" style="stroke:#555"/>
</g>
<g id="vibrator">
<use xlink:href="#lb" x="1582" y="616.400"/><use xlink:href="#lh" x="1522" y="640.400"/><path class="g" d="M1522,632.500H1550"/>
<use xlink:href="#d" x="1636.200" y="616.400"/><use xlink:href="#d" x="1716" y="616.400"/><use xlink:href="#d" x="1682.800" y="640.400"/><use xlink:href="#d" x="1716" y="640.400"/><use xlink:href="#d" x="1659.200" y="682.100"/>
<use xlink:href="#cv" x="1636.200" y="660.300" style="stroke:#999"/><use xlink:href="#cv" x="1682.800" y="660.300" style="stroke:#999"/><use xlink:href="#cv" x="1716" y="628.800"/>
<use xlink:href="#gk" x="1659.200" y="691.400"/>
<rect class="res" x="1794.400" y="612.100" width="28.700" height="9.700"/><rect class="res" x="1794.400" y="635.400" width="28.700" height="10"/>
<rect class="box" x="1972.300" y="594.300" width="47.200" height="46.400"/>
<circle cx="1995.900" cy="616.800" r="19" fill="#fff" stroke="#666" stroke-width=".8"/>
<use xlink:href="#gk" x="1995.300" y="651"/>
</g>
<g id="right-caps">
<use xlink:href="#d" x="1242" y="775.400"/><use xlink:href="#d" x="1270.800" y="775.400"/><use xlink:href="#d" x="1330.100" y="775.400"/><use xlink:href="#d" x="1388.100" y="821.300"/>
<use xlink:href="#cv" x="1270.800" y="785.600"/><use xlink:href="#gn" x="1270.800" y="797.700"/>
<use xlink:href="#cv" x="1330.100" y="785.600"/><use xlink:href="#gn" x="1330.100" y="797.700"/>
<use xlink:href="#au" x="1551.400" y="789.200"/><use xlink:href="#au" x="1598" y="789.200"/><use xlink:href="#au" x="1644.500" y="789.200"/><use xlink:href="#au" x="1689.800" y="789.200"/><use xlink:href="#au" x="1736.300" y="789.200"/><use xlink:href="#au" x="1782.300" y="789.200"/><use xlink:href="#au" x="1829.500" y="789.200"/><use xlink:href="#au" x="1876" y="789.200"/><use xlink:href="#au" x="1910.500" y="789.200"/><use xlink:href="#au" x="1957" y="789.200"/><use xlink:href="#au" x="2015" y="789.200"/>
<use xlink:href="#d" x="1957" y="809.300"/><use xlink:href="#d" x="1910.500" y="821.300"/><use xlink:href="#d" x="1876" y="832.500"/><use xlink:href="#d" x="1829.500" y="843.700"/><use xlink:href="#d" x="1782.300" y="855.300"/><use xlink:href="#d" x="1736.300" y="867.300"/><use xlink:href="#d" x="1689.800" y="878.500"/><use xlink:href="#d" x="1644.500" y="902.100"/><use xlink:href="#d" x="1598" y="915.500"/><use xlink:href="#d" x="1551.400" y="926.300"/>
<polygon points="1983,806.300 1979,809.300 1983,812.300" fill="#444"/><polygon points="2001.500,806.300 2005.500,809.300 2001.500,812.300" fill="#444"/>
<use xlink:href="#cv" x="1551.400" y="949.500" style="stroke:#aaa"/><use xlink:href="#cv" x="1598" y="949.500"/><use xlink:href="#cv" x="1644.500" y="949.500" style="stroke:#aaa"/><use xlink:href="#cv" x="1689.800" y="949.500" style="stroke:#aaa"/><use xlink:href="#cv" x="1736.300" y="949.500" style="stroke:#aaa"/><use xlink:href="#cv" x="1782.300" y="949.500"/><use xlink:href="#cv" x="1829.500" y="949.500" style="stroke:#aaa"/><use xlink:href="#cv" x="1876" y="949.500"/><use xlink:href="#cv" x="1922.600" y="949.500"/>
<use xlink:href="#gk" x="1551.400" y="980.700"/><use xlink:href="#gk" x="1598" y="980.700"/><use xlink:href="#gk" x="1644.500" y="980.700"/><use xlink:href="#gk" x="1689.800" y="980.700"/><use xlink:href="#gk" x="1736.300" y="980.700"/><use xlink:href="#gk" x="1782.300" y="980.700"/><use xlink:href="#gk" x="1829.500" y="980.700"/><use xlink:href="#gk" x="1876" y="980.700"/><use xlink:href="#gk" x="1922.600" y="980.700"/>
<polygon class="tag" points="2038.700,1012 2053,1012 2062.200,1018 2053,1024 2038.700,1024"/>
<use xlink:href="#ch" x="1242.700" y="1047.200" style="stroke:#999"/>
<use xlink:href="#lh" x="1317" y="1081.600"/><path class="g" d="M1317,1075.400H1345"/>
<use xlink:href="#d" x="1391.300" y="1057.500"/><use xlink:href="#d" x="1391.300" y="1069.600"/>
<use xlink:href="#hex" x="2022" y="1057.500"/>
<use xlink:href="#d" x="1457" y="1098.600"/><use xlink:href="#hex" x="1964.600" y="1098.200"/>
<use xlink:href="#d" x="1406.600" y="1141.400"/><use xlink:href="#d" x="1530.400" y="1141.400"/>
<use xlink:href="#au" x="1530.400" y="1124"/>
<use xlink:href="#cv" x="1406.600" y="1160.600"/><use xlink:href="#gn" x="1406.600" y="1181.600"/>
</g>
<g id="diode-block">
<rect x="1549.500" y="1171.800" width="174.100" height="98.200" fill="none" stroke="#000"/>
<path d="M1549.500,1171.800H1723.600M1549.500,1270H1723.600" style="stroke-width:1.6"/>
<use xlink:href="#dz" x="1566.700" y="1242.300"/><use xlink:href="#dz" x="1587.800" y="1242.300"/><use xlink:href="#dz" x="1608.800" y="1242.300"/><use xlink:href="#dz" x="1629.800" y="1242.300"/><use xlink:href="#dz" x="1657.300" y="1242.300"/><use xlink:href="#dz" x="1678.300" y="1242.300"/><use xlink:href="#dz" x="1699.400" y="1242.300"/>
<use xlink:href="#gn" x="1740.200" y="1249.500"/>
<use xlink:href="#d" x="1827.600" y="1232.500"/><use xlink:href="#cv" x="1827.600" y="1255.500"/><use xlink:href="#gn" x="1827.600" y="1273.600"/>
</g>
<g id="device">
<rect class="box" x="1889.400" y="1195.400" width="79.100" height="50.500"/>
<rect class="lk" x="1914.900" y="1209.300" width="28.700" height="20.100"/>
</g>
<g id="bus-bottom">
<use xlink:href="#hex" x="1999.800" y="1293"/>
<use xlink:href="#d" x="1892.600" y="1292.800"/><use xlink:href="#d" x="1892.600" y="1304.400"/><use xlink:href="#d" x="1892.600" y="1316.400"/>
<use xlink:href="#st" x="1377.300" y="1305.300"/><use xlink:href="#st" x="1397.100" y="1316.400"/><use xlink:href="#st" x="1416.800" y="1328.500"/><use xlink:href="#st" x="1436.600" y="1339.600"/>
</g>
<g id="balloons">
<polygon class="tail" points="690.200,858.100 696.200,854.100 713.200,886.500"/><ellipse class="bal" cx="682.700" cy="845.700" rx="12.500" ry="13"/>
<polygon class="tail" points="820.600,876.500 820.600,883 796.300,886.500"/><ellipse class="bal" cx="830.800" cy="873" rx="12.500" ry="13"/>
<polygon class="tail" points="726,992 731,1000 693.500,1017.800"/><ellipse class="bal" cx="736.100" cy="987.500" rx="12.500" ry="13"/>
<polygon class="tail" points="753,1000 760,1004 732.800,1030.200"/><ellipse class="bal" cx="763.200" cy="991.400" rx="12.500" ry="13"/>
<polygon class="tail" points="780,1009 787,1011 773.300,1041.200"/><ellipse class="bal" cx="788.200" cy="998.400" rx="12.500" ry="13"/>
<polygon class="tail" points="800,1135 805,1132 817.300,1146.200"/><ellipse class="bal" cx="795.600" cy="1126.800" rx="12.500" ry="13"/>
<polygon class="tail" points="856,1139 861,1139 856.500,1157.600"/><ellipse class="bal" cx="860" cy="1126.300" rx="12.500" ry="13"/>
<polygon class="tail" points="895,1139 900,1139 896.400,1169"/><ellipse class="bal" cx="898.400" cy="1126.800" rx="12.500" ry="13"/>
<polygon class="tail" points="565,1310.700 572.700,1310.700 593.300,1355"/><rect class="ly" x="557.300" y="1296.300" width="31" height="14.400"/>
<polygon class="tail" points="1359.400,1162 1362.600,1171.800 1406.600,1140"/><ellipse class="bal" cx="1350.500" cy="1168.700" rx="12.500" ry="13"/>
<polygon class="tail" points="1345.400,1361.500 1353.700,1367.300 1397.100,1316.400"/><ellipse class="bal" cx="1341" cy="1373" rx="12.500" ry="13"/>
</g>
</svg>
